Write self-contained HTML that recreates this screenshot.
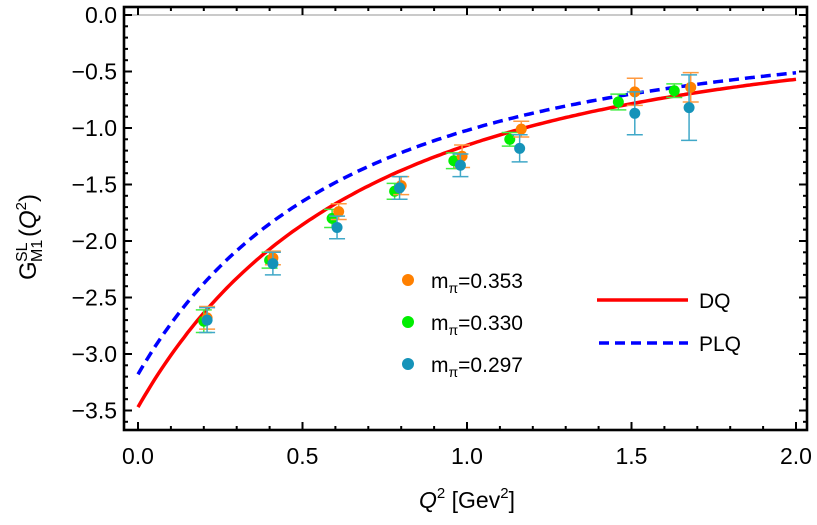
<!DOCTYPE html>
<html><head><meta charset="utf-8"><style>
html,body{margin:0;padding:0;background:#fff;}
svg{display:block;font-family:"Liberation Sans",Arial,sans-serif;}
</style></head><body>
<svg id="chart" width="817" height="525" viewBox="0 0 817 525" xmlns="http://www.w3.org/2000/svg">
<g id="frame-g"></g><g id="curves"></g><g id="points"></g>
<g>
 <circle cx="408" cy="280" r="6" fill="#ff8000"/>
 <text x="431" y="288" font-size="21">m<tspan font-size="14" dy="5">π</tspan><tspan dy="-5">=0.353</tspan></text>
 <circle cx="408" cy="322" r="6" fill="#00ee00"/>
 <text x="431" y="330" font-size="21">m<tspan font-size="14" dy="5">π</tspan><tspan dy="-5">=0.330</tspan></text>
 <circle cx="408" cy="364" r="6" fill="#1593b9"/>
 <text x="431" y="372" font-size="21">m<tspan font-size="14" dy="5">π</tspan><tspan dy="-5">=0.297</tspan></text>
 <line x1="597" y1="300" x2="688" y2="300" stroke="#ff0000" stroke-width="3.5"/>
 <text x="699" y="308" font-size="21">DQ</text>
 <line x1="599" y1="343" x2="688" y2="343" stroke="#0000ff" stroke-width="3.5" stroke-dasharray="10,6"/>
 <text x="699" y="351" font-size="21">PLQ</text>
</g>
<text x="467" y="508" font-size="23" text-anchor="middle"><tspan font-style="italic">Q</tspan><tspan font-size="15" dy="-10">2</tspan><tspan dy="10"> [Gev</tspan><tspan font-size="15" dy="-10">2</tspan><tspan dy="10">]</tspan></text>
<g transform="translate(36,220) rotate(-90)">
 <text x="-60" y="0" font-size="24">G</text>
 <text x="-42" y="-9" font-size="16">SL</text>
 <text x="-42" y="6" font-size="16">M1</text>
 <text x="-17" y="0" font-size="24">(<tspan font-style="italic">Q</tspan><tspan font-size="15" dy="-10">2</tspan><tspan dy="10">)</tspan></text>
</g>
</svg>
<script>
const xTicks=[0,0.5,1.0,1.5,2.0];
const xTickLabels=["0.0","0.5","1.0","1.5","2.0"];
const yTicks=[0,-0.5,-1,-1.5,-2,-2.5,-3,-3.5];
const yTickLabels=["0.0","−0.5","−1.0","−1.5","−2.0","−2.5","−3.0","−3.5"];
const x353=[0.21,0.41,0.61,0.80,0.985,1.165,1.51,1.68];
const y353=[-2.68,-2.15,-1.74,-1.51,-1.25,-1.01,-0.68,-0.64];
const e353=[0.10,0.06,0.07,0.08,0.10,0.07,0.12,0.13];
const x330=[0.20,0.40,0.59,0.78,0.96,1.13,1.46,1.63];
const y330=[-2.71,-2.17,-1.80,-1.56,-1.29,-1.10,-0.77,-0.67];
const e330=[0.10,0.07,0.08,0.07,0.07,0.06,0.07,0.06];
const x297=[0.21,0.41,0.605,0.795,0.98,1.16,1.51,1.675];
const y297=[-2.70,-2.20,-1.88,-1.53,-1.33,-1.18,-0.87,-0.82];
const e297=[0.11,0.10,0.10,0.10,0.10,0.12,0.19,0.29];
const dqParams=[-3.47,0.735,2];   // G0, slope a, power n : G0/(1+a Q^2)^n
const plqParams=[-3.18,0.88,1.8];
const NS="http://www.w3.org/2000/svg";
const X=v=>138+v*329, Y=v=>15-v*113;
function mk(tag,attrs,parent){const e=document.createElementNS(NS,tag);for(const k in attrs)e.setAttribute(k,attrs[k]);parent.appendChild(e);return e;}
const fg=document.getElementById('frame-g');
const L=124,R=807,T=7,B=430;
let zl=mk('line',{x1:L,x2:R,y1:Y(0),y2:Y(0),stroke:'#aaa','stroke-width':1.2},fg);


let fr=mk('rect',{x:L,y:T,width:R-L,height:B-T,fill:'none',stroke:'#000','stroke-width':2.6},fg);


for(let i=0;i<=20;i++){const v=i*0.1,px=X(v),len=i%5==0?8:4;
 mk('line',{x1:px,x2:px,y1:B,y2:B-len,stroke:'#000','stroke-width':2},fg);
 mk('line',{x1:px,x2:px,y1:T,y2:T+len,stroke:'#000','stroke-width':2},fg);}
for(let i=0;i<=36;i++){const v=-i*0.1,py=Y(v),len=i%5==0?8:4;
 mk('line',{x1:L,x2:L+len,y1:py,y2:py,stroke:'#000','stroke-width':2},fg);
 mk('line',{x1:R,x2:R-len,y1:py,y2:py,stroke:'#000','stroke-width':2},fg);}
xTicks.forEach((v,i)=>{const t=mk('text',{x:X(v),y:464,'font-size':23,'text-anchor':'middle'},fg);t.textContent=xTickLabels[i];
 
 });
yTicks.forEach((v,i)=>{const t=mk('text',{x:117,y:Y(v)+8,'font-size':23,'text-anchor':'end'},fg);t.textContent=yTickLabels[i];
 
 });
const cg=document.getElementById('curves');
function curve(p,style,name){let d='';for(let i=0;i<=200;i++){const q=i*0.01;const g=p[0]/Math.pow(1+p[1]*q,p[2]);d+=(i?'L':'M')+X(q).toFixed(1)+','+Y(g).toFixed(1);}
 const e=mk('path',Object.assign({d:d,fill:'none'},style),cg);
 
 }
curve(dqParams,{stroke:'#ff0000','stroke-width':3.5},'dq-curve');
curve(plqParams,{stroke:'#0000ff','stroke-width':3.5,'stroke-dasharray':'10,6'},'plq-curve');
const pg=document.getElementById('points');
function series(xs,ys,es,col,ecol,name){xs.forEach((x,i)=>{const px=X(x),y1=Y(ys[i]+es[i]),y2=Y(ys[i]-es[i]);
 const g=mk('g',{},pg);
 
 
 mk('line',{x1:px,x2:px,y1:y1,y2:y2,stroke:ecol,'stroke-width':1.5},g);
 mk('line',{x1:px-8,x2:px+8,y1:y1,y2:y1,stroke:ecol,'stroke-width':1.5},g);
 mk('line',{x1:px-8,x2:px+8,y1:y2,y2:y2,stroke:ecol,'stroke-width':1.5},g);
 mk('circle',{cx:px,cy:Y(ys[i]),r:5.5,fill:col},g);});}
series(x330,y330,e330,'#00ee00','#40ee40','mpi-330');
series(x353,y353,e353,'#ff8000','#ff9a40','mpi-353');
series(x297,y297,e297,'#1593b9','#40a8c8','mpi-297');
</script>
</body></html>
